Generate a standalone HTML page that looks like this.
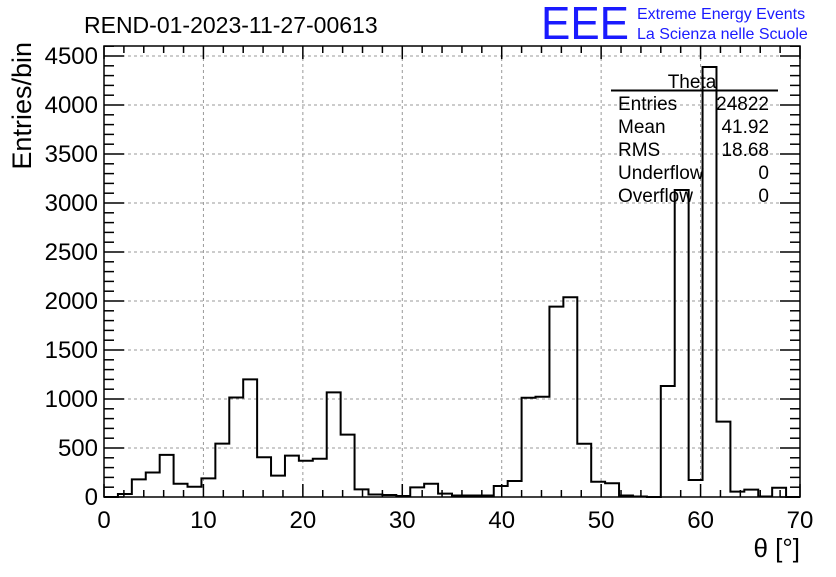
<!DOCTYPE html>
<html><head><meta charset="utf-8"><style>
body{margin:0;background:#fff;}
svg{font-family:"Liberation Sans",sans-serif;}
</style></head><body>
<svg id="c" width="836" height="572" xmlns="http://www.w3.org/2000/svg">
<text x="84" y="33" font-size="23">REND-01-2023-11-27-00613</text>
<text x="541" y="39" font-size="46" fill="#1a1aff" textLength="88" lengthAdjust="spacingAndGlyphs">EEE</text>
<text x="637" y="19" font-size="16" fill="#1a1aff">Extreme Energy Events</text>
<text x="637" y="39" font-size="16" fill="#1a1aff">La Scienza nelle Scuole</text>
<g id="grid"></g>
<g id="axes"></g>
<path id="hist" fill="none" stroke="#000" stroke-width="2"></path>
<rect x="104" y="46" width="696" height="451" fill="none" stroke="#000" stroke-width="1.5"/>
<text x="31" y="42" font-size="27" transform="rotate(-90 31 42)" text-anchor="end">Entries/bin</text>
<text x="800" y="557" font-size="26" text-anchor="end">θ [°]</text>
<g font-size="19">
<text x="692" y="88" text-anchor="middle">Theta</text>
<line x1="611" y1="90.5" x2="778" y2="90.5" stroke="#000" stroke-width="2"/>
<text x="618" y="110">Entries</text><text x="769" y="110" text-anchor="end">24822</text>
<text x="618" y="133">Mean</text><text x="769" y="133" text-anchor="end">41.92</text>
<text x="618" y="156">RMS</text><text x="769" y="156" text-anchor="end">18.68</text>
<text x="618" y="179">Underflow</text><text x="769" y="179" text-anchor="end">0</text>
<text x="618" y="202">Overflow</text><text x="769" y="202" text-anchor="end">0</text>
</g>
</svg>
<script>
const binLow = 0, binWidth = 1.4;
const counts = [0,30,180,250,430,135,105,190,545,1015,1200,405,218,422,370,390,1068,636,78,25,20,10,98,135,35,15,15,15,112,163,1013,1023,1942,2038,544,156,140,15,5,0,1133,3133,173,4388,769,55,75,5,95,0];
const xTicks = [0,10,20,30,40,50,60,70];
const yTicks = [0,500,1000,1500,2000,2500,3000,3500,4000,4500];
const X0=104,X1=800,Y0=497,PX=(X1-X0)/70,PY=0.098;
const sx=v=>X0+v*PX, sy=v=>Y0-v*PY;
const NS="http://www.w3.org/2000/svg";
const grid=document.getElementById('grid'), axes=document.getElementById('axes');
function mk(tag,attrs,parent){const e=document.createElementNS(NS,tag);for(const k in attrs)e.setAttribute(k,attrs[k]);parent.appendChild(e);return e;}
xTicks.forEach(t=>{
  if(t>0&&t<70){const g=mk('line',{x1:sx(t),x2:sx(t),y1:46,y2:497,stroke:'#999','stroke-dasharray':'3,3'},grid);
  
  }
  const l=mk('text',{x:sx(t),y:528,'font-size':24,'text-anchor':'middle'},axes);l.textContent=t;
  
  
});
yTicks.forEach(t=>{
  if(t>0){const g=mk('line',{x1:104,x2:800,y1:sy(t),y2:sy(t),stroke:'#999','stroke-dasharray':'3,3'},grid);
  
  }
  const l=mk('text',{x:98,y:sy(t)+8,'font-size':24,'text-anchor':'end'},axes);l.textContent=t;
  
  
});
for(let v=0;v<=70;v+=2){const L=(v%10===0)?13:7;
  mk('line',{x1:sx(v),x2:sx(v),y1:497,y2:497-L,stroke:'#000','stroke-width':1.5},axes);
  mk('line',{x1:sx(v),x2:sx(v),y1:46,y2:46+L,stroke:'#000','stroke-width':1.5},axes);}
for(let v=0;v<=4600;v+=100){const y=sy(v);if(y<46)break;const L=(v%500===0)?20:10;
  mk('line',{x1:104,x2:104+L,y1:y,y2:y,stroke:'#000','stroke-width':1.5},axes);
  mk('line',{x1:800,x2:800-L,y1:y,y2:y,stroke:'#000','stroke-width':1.5},axes);}
let d='M'+sx(binLow)+','+sy(0);
counts.forEach((c,i)=>{const a=sx(binLow+i*binWidth),b=sx(binLow+(i+1)*binWidth);d+=' L'+a+','+sy(c)+' L'+b+','+sy(c);});
d+=' L'+sx(binLow+counts.length*binWidth)+','+sy(0);
document.getElementById('hist').setAttribute('d',d);
</script>
</body></html>
